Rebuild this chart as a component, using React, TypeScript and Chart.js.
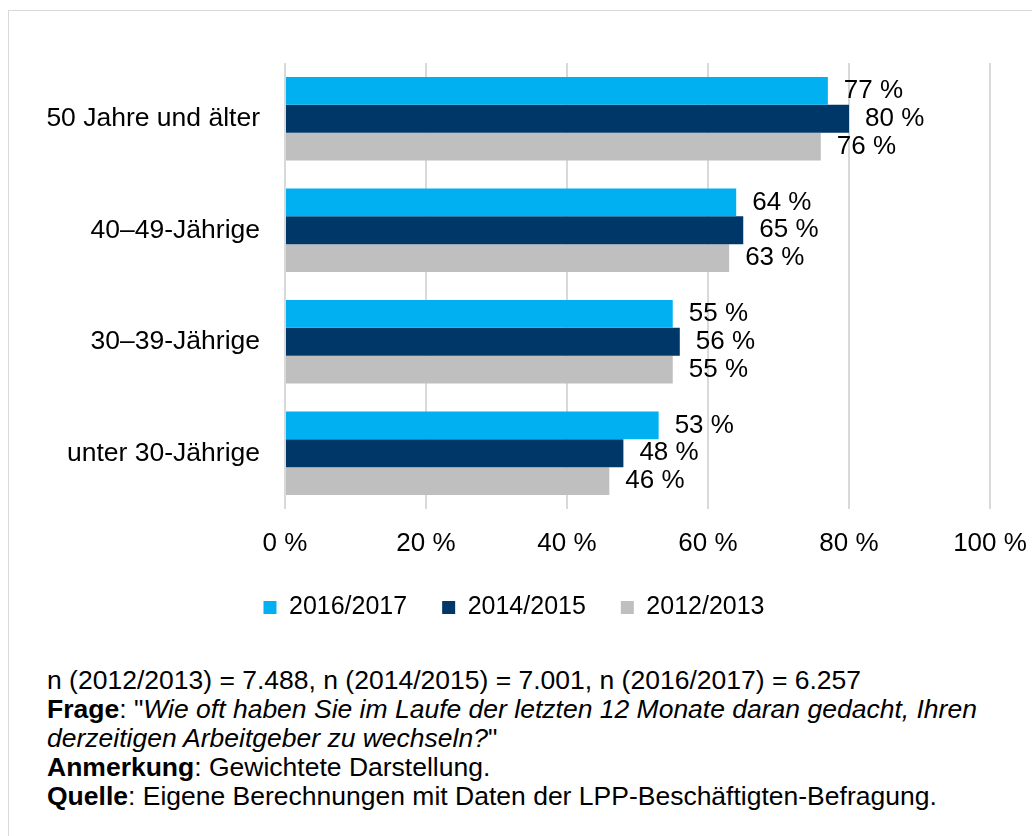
import React, { useEffect, useRef } from "react";
import { Chart, registerables } from "chart.js";

Chart.register(...registerables);

const categories = ["50 Jahre und älter", "40–49-Jährige", "30–39-Jährige", "unter 30-Jährige"];
const series2016 = [77, 64, 55, 53];
const series2014 = [80, 65, 56, 48];
const series2012 = [76, 63, 55, 46];
const seriesLabels = ["2016/2017", "2014/2015", "2012/2013"];
const seriesColors = ["#00B0F0", "#003769", "#BFBFBF"];
const xTicks = [0, 20, 40, 60, 80, 100];

const FONT = '"Liberation Sans", Arial, Helvetica, sans-serif';

const dataLabelPlugin = {
  id: "dataLabels",
  afterDatasetsDraw(chart: any) {
    const ctx = chart.ctx;
    ctx.save();
    ctx.font = `26px ${FONT}`;
    ctx.fillStyle = "#000000";
    ctx.textAlign = "left";
    ctx.textBaseline = "middle";
    chart.data.datasets.forEach((ds: any, i: number) => {
      const meta = chart.getDatasetMeta(i);
      meta.data.forEach((bar: any, j: number) => {
        ctx.fillText(`${ds.data[j]} %`, bar.x + 16, bar.y);
      });
    });
    ctx.restore();
  },
};

export default function App() {
  const ref = useRef<HTMLCanvasElement | null>(null);

  useEffect(() => {
    document.documentElement.style.overflow = "hidden";
    document.body.style.margin = "0";
    if (!ref.current) return;
    const chart = new Chart(ref.current, {
      type: "bar",
      data: {
        labels: categories,
        datasets: [
          { label: seriesLabels[0], data: series2016, backgroundColor: seriesColors[0] },
          { label: seriesLabels[1], data: series2014, backgroundColor: seriesColors[1] },
          { label: seriesLabels[2], data: series2012, backgroundColor: seriesColors[2] },
        ],
      },
      plugins: [dataLabelPlugin],
      options: {
        indexAxis: "y",
        animation: false,
        responsive: false,
        maintainAspectRatio: false,
        datasets: { bar: { categoryPercentage: 0.75, barPercentage: 1 } },
        layout: { padding: { top: 63, right: 42, left: 38, bottom: 1 } },
        scales: {
          x: {
            min: 0,
            max: 100,
            afterBuildTicks: (scale: any) => {
              scale.ticks = xTicks.map((v) => ({ value: v }));
            },
            afterFit: (scale: any) => {
              scale.height = 51;
              scale.paddingLeft = 0;
              scale.paddingRight = 0;
            },
            grid: { color: "#D9D9D9", lineWidth: 2, drawTicks: false },
            border: { display: false },
            ticks: {
              padding: 19,
              color: "#000000",
              font: { size: 26, family: FONT },
              callback: (v: any) => `${v} %`,
            },
          },
          y: {
            afterFit: (scale: any) => {
              scale.width = 247;
              scale.paddingTop = 0;
              scale.paddingBottom = 0;
            },
            grid: { display: false, drawTicks: false },
            border: { display: false },
            ticks: {
              padding: 25,
              color: "#000000",
              font: { size: 26.5, family: FONT },
            },
          },
        },
        plugins: {
          tooltip: { enabled: false },
          legend: {
            position: "bottom",
            labels: {
              boxWidth: 13,
              boxHeight: 13,
              padding: 35,
              color: "#000000",
              font: { size: 25, family: FONT },
            },
          },
        },
      },
    });
    return () => chart.destroy();
  }, []);

  const noteStyle: React.CSSProperties = {
    position: "absolute",
    left: 47,
    top: 666,
    fontFamily: FONT,
    fontSize: 26.5,
    lineHeight: "29px",
    color: "#000000",
    whiteSpace: "nowrap",
  };

  return (
    <div style={{ position: "fixed", left: 0, top: 0, width: 1032, height: 836, overflow: "hidden" }}>
      <div
        style={{
          position: "absolute",
          left: 8,
          top: 10,
          width: 1040,
          height: 840,
          border: "1px solid #D9D9D9",
          boxSizing: "border-box",
          background: "#ffffff",
        }}
      />
      <canvas
        ref={ref}
        width={1032}
        height={631}
        style={{ position: "absolute", left: 0, top: 0, width: 1032, height: 631 }}
      />
      <div style={noteStyle}>
        <div>n (2012/2013) = 7.488, n (2014/2015) = 7.001, n (2016/2017) = 6.257</div>
        <div>
          <b>Frage</b>: "<i>Wie oft haben Sie im Laufe der letzten 12 Monate daran gedacht, Ihren</i>
        </div>
        <div>
          <i>derzeitigen Arbeitgeber zu wechseln?</i>"
        </div>
        <div>
          <b>Anmerkung</b>: Gewichtete Darstellung.
        </div>
        <div>
          <b>Quelle</b>: Eigene Berechnungen mit Daten der LPP-Beschäftigten-Befragung.
        </div>
      </div>
    </div>
  );
}
